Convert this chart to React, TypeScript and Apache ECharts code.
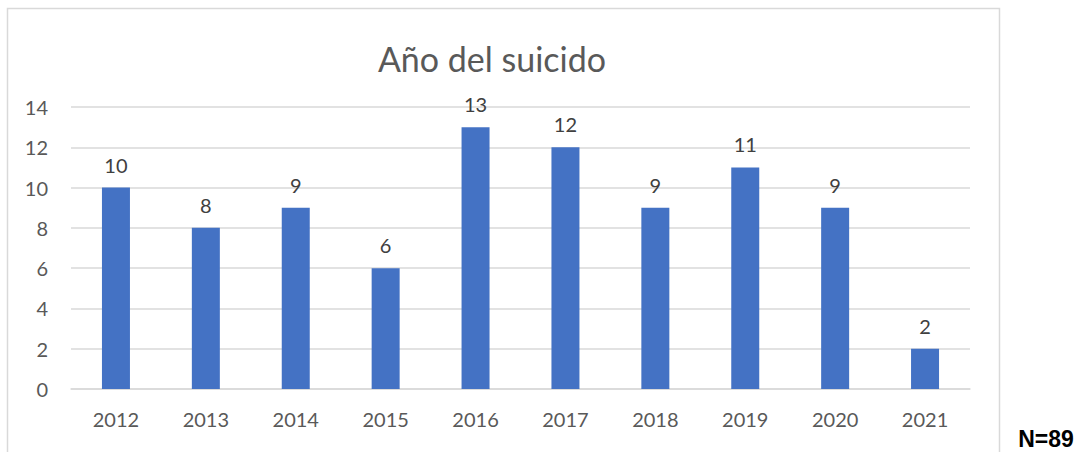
import React, { useEffect, useRef } from "react";
import * as echarts from "echarts";

const categories = ["2012", "2013", "2014", "2015", "2016", "2017", "2018", "2019", "2020", "2021"];
const values = [10, 8, 9, 6, 13, 12, 9, 11, 9, 2];
const titleText = "Año del suicido";
const noteText = "N=89";

export default function App() {
  const ref = useRef<HTMLDivElement>(null);
  useEffect(() => {
    if (!ref.current) return;
    const chart = echarts.init(ref.current, undefined, { renderer: "svg" });
    const font = "Lato, 'Open Sans', sans-serif";
    chart.setOption({
      animation: false,
      backgroundColor: "#ffffff",
      textStyle: { fontFamily: font },
      graphic: [
        {
          type: "rect",
          shape: { x: 7.5, y: 8.5, width: 992, height: 446 },
          style: { fill: "none", stroke: "#d9d9d9", lineWidth: 1.5 },
          silent: true,
        },
        {
          type: "text",
          x: 492,
          y: 58,
          style: {
            text: titleText,
            fill: "#595959",
            font: `34px ${font}`,
            textAlign: "center",
            textVerticalAlign: "middle",
          },
        },
        {
          type: "text",
          x: 1046,
          y: 439,
          style: {
            text: noteText,
            fill: "#000000",
            font: `bold 23px Arial, 'Liberation Sans', sans-serif`,
            textAlign: "center",
            textVerticalAlign: "middle",
          },
        },
      ],
      grid: { left: 71, right: 111, top: 107, bottom: 63, containLabel: false },
      xAxis: {
        type: "category",
        data: categories,
        axisLine: { show: true, lineStyle: { color: "#d9d9d9", width: 1.5 } },
        axisTick: { show: false },
        axisLabel: { color: "#595959", fontSize: 20, margin: 20, fontFamily: font },
      },
      yAxis: {
        type: "value",
        min: 0,
        max: 14,
        interval: 2,
        axisLine: { show: false },
        axisTick: { show: false },
        splitLine: { lineStyle: { color: "#d9d9d9", width: 1.5 } },
        axisLabel: { color: "#595959", fontSize: 20, margin: 23, fontFamily: font },
      },
      series: [
        {
          type: "bar",
          data: values,
          barWidth: 28,
          itemStyle: { color: "#4472C4" },
          label: {
            show: true,
            position: "top",
            distance: 13,
            color: "#404040",
            fontSize: 20,
            fontFamily: font,
          },
        },
      ],
    });
    return () => chart.dispose();
  }, []);
  return (
    <div
      ref={ref}
      style={{ position: "absolute", left: 0, top: 0, width: 1081, height: 452 }}
    />
  );
}
